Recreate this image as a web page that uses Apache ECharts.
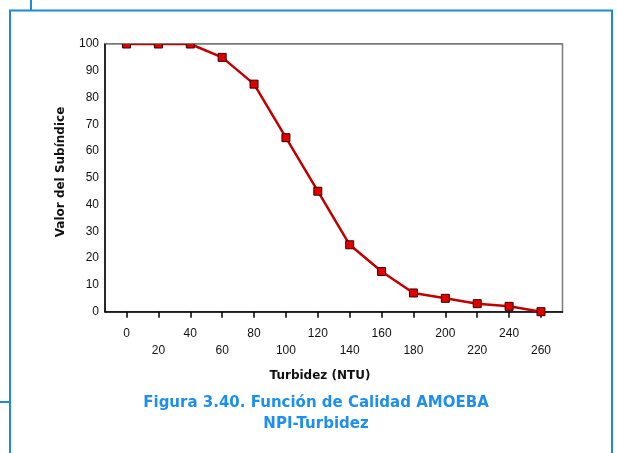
<!DOCTYPE html>
<html>
<head>
<meta charset="utf-8">
<script src="https://cdn.jsdelivr.net/npm/echarts@6/dist/echarts.min.js"></script>
<style>
  html, body { margin: 0; padding: 0; background: #ffffff; }
  #chart { width: 617px; height: 453px; }
</style>
</head>
<body>
<div id="chart"></div>
<script>
// Turbidity (NTU) vs sub-index value
const turbidez = [0, 20, 40, 60, 80, 100, 120, 140, 160, 180, 200, 220, 240, 260];
const subindice = [100, 100, 100, 95, 85, 65, 45, 25, 15, 7, 5, 3, 2, 0];
const xTicks = [0, 20, 40, 60, 80, 100, 120, 140, 160, 180, 200, 220, 240, 260];

const frameBlue = '#1d8ad8';
const textFont = 'DejaVu Sans, Verdana, sans-serif';

const chart = echarts.init(document.getElementById('chart'), null, { renderer: 'canvas' });

const gridLeft = 105, gridTop = 44, gridRight = 54.5, gridBottom = 141.3;

chart.setOption({
  animation: false,
  backgroundColor: '#ffffff',
  grid: {
    left: gridLeft, top: gridTop, right: gridRight, bottom: gridBottom,
    show: true, borderColor: '#7a7a7a', borderWidth: 1.5, backgroundColor: '#ffffff'
  },
  xAxis: {
    type: 'value',
    min: -13.5, max: 273.5,
    splitLine: { show: false },
    axisLine: { show: true, onZero: false, lineStyle: { color: '#000', width: 1.5 } },
    axisTick: { show: true, customValues: xTicks, length: 6, inside: false, lineStyle: { color: '#000', width: 1.5 } },
    axisLabel: {
      customValues: xTicks,
      margin: 13,
      fontFamily: 'Liberation Sans, Arial, sans-serif',
      fontSize: 12,
      color: '#111',
      lineHeight: 17,
      formatter: v => ((v / 20) % 2 === 1 ? '\n' + v : String(v))
    }
  },
  yAxis: {
    type: 'value',
    min: 0, max: 100, interval: 10,
    splitLine: { show: false },
    axisLine: { show: true, onZero: false, lineStyle: { color: '#000', width: 1.5 } },
    axisTick: { show: false },
    axisLabel: {
      margin: 6,
      fontFamily: 'Liberation Sans, Arial, sans-serif',
      fontSize: 12,
      color: '#111'
    }
  },
  series: [{
    type: 'line',
    data: turbidez.map((t, i) => [t, subindice[i]]),
    symbol: 'rect',
    symbolSize: 8,
    lineStyle: { color: '#bf0000', width: 2.5 },
    itemStyle: { color: '#e00000', borderColor: '#3a0000', borderWidth: 1 },
    z: 3
  }],
  graphic: [
    // keep marks inside the plot frame along its top edge
    { type: 'rect', zlevel: 1, z: 50, shape: { x: gridLeft + 1, y: 30, width: 617 - gridLeft - gridRight - 2, height: gridTop - 30 - 0.5 },
      style: { fill: '#ffffff' } },
    { type: 'line', zlevel: 1, z: 51, shape: { x1: gridLeft, y1: gridTop - 0.5, x2: 617 - gridRight, y2: gridTop - 0.5 },
      style: { stroke: '#7a7a7a', lineWidth: 1 } },
    // axis titles
    { type: 'text', zlevel: 1, z: 60, x: 61, y: 172, rotation: Math.PI / 2,
      style: { text: 'Valor del Subíndice', fontFamily: textFont, fontWeight: 'bold', fontSize: 12,
               fill: '#111', align: 'center', verticalAlign: 'middle' } },
    { type: 'text', zlevel: 1, z: 60, x: 320, y: 376,
      style: { text: 'Turbidez (NTU)', fontFamily: textFont, fontWeight: 'bold', fontSize: 12,
               fill: '#111', align: 'center', verticalAlign: 'middle' } },
    // caption
    { type: 'text', zlevel: 1, z: 60, x: 316, y: 403,
      style: { text: 'Figura 3.40. Función de Calidad AMOEBA', fontFamily: textFont, fontWeight: 'bold',
               fontSize: 15, fill: '#1e8ff0', align: 'center', verticalAlign: 'middle' } },
    { type: 'text', zlevel: 1, z: 60, x: 316, y: 424,
      style: { text: 'NPI-Turbidez', fontFamily: textFont, fontWeight: 'bold',
               fontSize: 15, fill: '#1e8ff0', align: 'center', verticalAlign: 'middle' } },
    // page frame lines
    { type: 'polyline', zlevel: 1, z: 70, shape: { points: [[10, 453], [10, 10.5], [612, 10.5], [612, 453]] },
      style: { stroke: frameBlue, lineWidth: 2, fill: null } },
    { type: 'line', zlevel: 1, z: 70, shape: { x1: 31, y1: 0, x2: 31, y2: 10 }, style: { stroke: frameBlue, lineWidth: 2 } },
    { type: 'line', zlevel: 1, z: 70, shape: { x1: 0, y1: 402, x2: 10, y2: 402 }, style: { stroke: frameBlue, lineWidth: 2 } }
  ]
});
</script>
</body>
</html>
